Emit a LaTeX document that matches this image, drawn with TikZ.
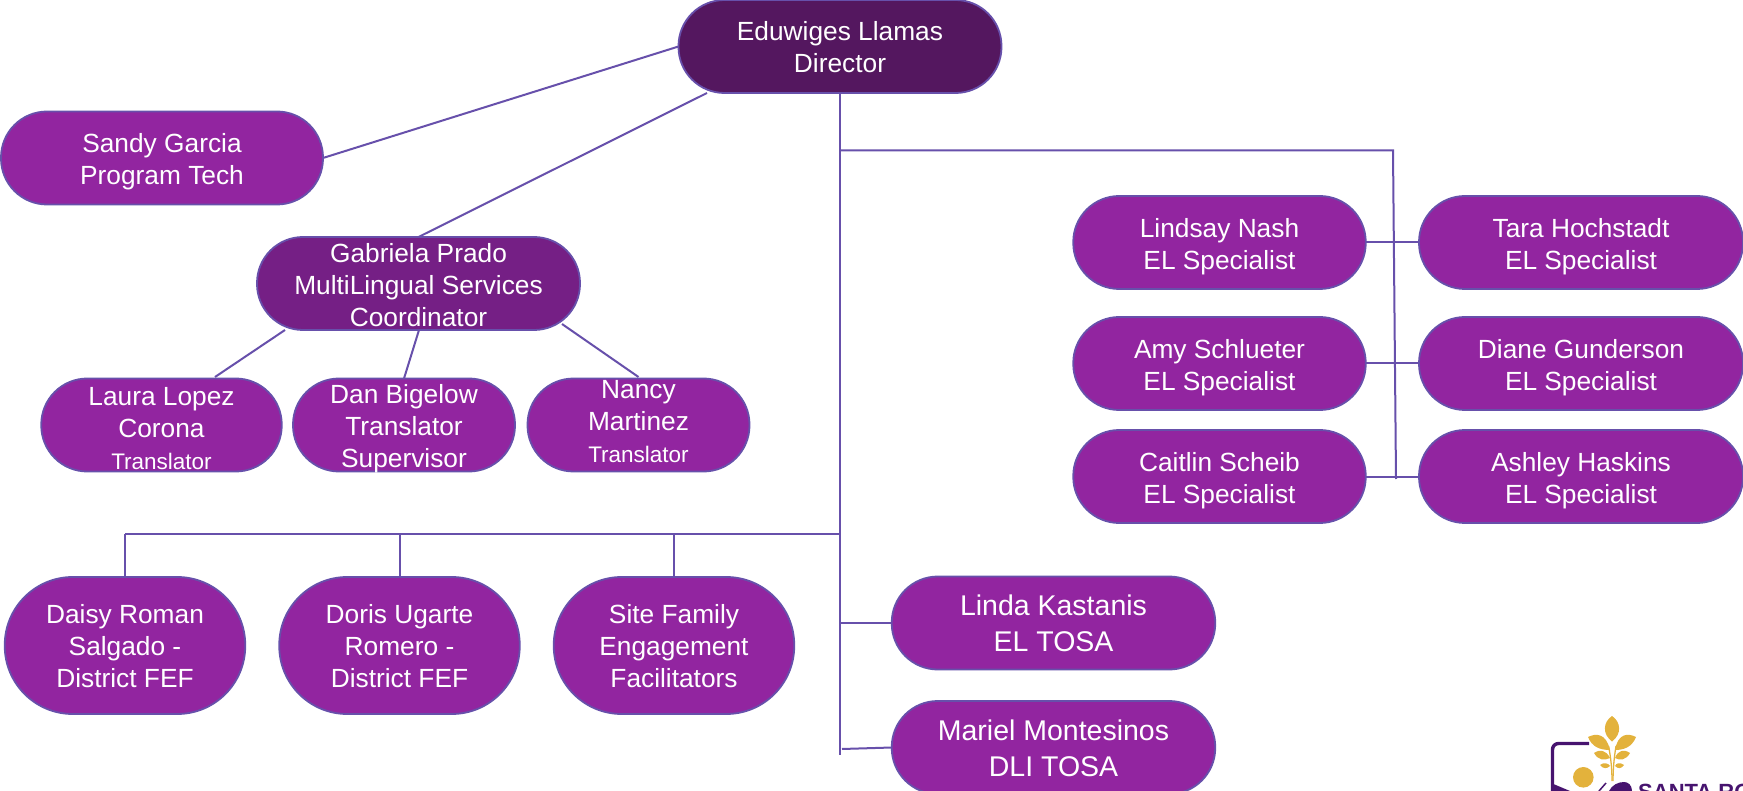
\documentclass[tikz,border=0pt]{standalone}
\usepackage{fontspec}
\setmainfont{Liberation Sans}
\definecolor{edge}{HTML}{6750AB}
\definecolor{dirfill}{HTML}{54175F}
\definecolor{coordfill}{HTML}{751F85}
\definecolor{staff}{HTML}{9225A0}
\definecolor{gold}{HTML}{E3B23C}
\definecolor{logop}{HTML}{47146F}
\newcommand{\pilltext}[2][0]{\raisebox{\dimexpr-9.6pt+#1pt\relax}[0pt][0pt]{\begin{tabular}[c]{@{}c@{}}#2\end{tabular}}}
\newcommand{\smalltr}{\fontsize{22.5}{32}\selectfont}
\begin{document}
\begin{tikzpicture}[x=1pt,y=-1pt,
  pill/.style={draw=edge,line width=1.8pt,fill=staff,text=white,rounded corners=46pt,inner sep=0pt,outer sep=0pt,
    minimum height=93pt,align=center,font=\fontsize{26.3}{32}\selectfont},
  link/.style={draw=edge,line width=2pt},
  big/.style={font=\fontsize{28.5}{36}\selectfont},
  ]
\useasboundingbox (0,0) rectangle (1743,791);
\clip (0,0) rectangle (1743,791);
% --- staff
\node[pill,fill=dirfill,minimum width=323pt,minimum height=93pt] (dir) at (840,46.5) {\pilltext{Eduwiges Llamas\\Director}};
\node[pill,minimum width=322pt] (sandy) at (162,158) {\pilltext[-1]{Sandy Garcia\\Program Tech}};
\node[pill,fill=coordfill,minimum width=323pt] (gab) at (418.5,283.5) {\pilltext[-1]{Gabriela Prado\\MultiLingual Services\\Coordinator}};
\node[pill,minimum width=240.5pt] (laura) at (161.5,425) {\pilltext[-3]{Laura Lopez\\Corona\\{\smalltr Translator}}};
\node[pill,minimum width=222pt] (dan) at (404,425) {\pilltext[-1]{Dan Bigelow\\Translator\\Supervisor}};
\node[pill,minimum width=222pt] (nancy) at (638.5,425) {\pilltext[4]{Nancy\\Martinez\\{\smalltr Translator}}};
\node[pill,minimum width=292.5pt] (lindsay) at (1219.5,242.5) {\pilltext[-1]{Lindsay Nash\\EL Specialist}};
\node[pill,minimum width=324pt] (tara) at (1581,242.5) {\pilltext[-1]{Tara Hochstadt\\EL Specialist}};
\node[pill,minimum width=292.5pt] (amy) at (1219.5,363.5) {\pilltext[-1]{Amy Schlueter\\EL Specialist}};
\node[pill,minimum width=324pt] (diane) at (1581,363.5) {\pilltext[-1]{Diane Gunderson\\EL Specialist}};
\node[pill,minimum width=292.5pt] (caitlin) at (1219.5,476.5) {\pilltext[-1]{Caitlin Scheib\\EL Specialist}};
\node[pill,minimum width=324pt] (ashley) at (1581,476.5) {\pilltext[-1]{Ashley Haskins\\EL Specialist}};
\node[pill,minimum width=240.5pt,minimum height=137pt,rounded corners=68pt] (daisy) at (125,645.5) {\pilltext{Daisy Roman\\Salgado -\\District FEF}};
\node[pill,minimum width=240.5pt,minimum height=137pt,rounded corners=68pt] (doris) at (399.5,645.5) {\pilltext{Doris Ugarte\\Romero -\\District FEF}};
\node[pill,minimum width=240.5pt,minimum height=137pt,rounded corners=68pt] (site) at (674,645.5) {\pilltext{Site Family\\Engagement\\Facilitators}};
\node[pill,big,minimum width=323.5pt] (linda) at (1053.5,623) {\pilltext{Linda Kastanis\\EL TOSA}};
\node[pill,big,minimum width=323.5pt] (mariel) at (1053.5,747.5) {\pilltext{Mariel Montesinos\\DLI TOSA}};
% --- free ends and junctions
\coordinate (dirlow) at (707,93);
\coordinate (gablow) at (285,330);
\coordinate (gabmid) at (419,330);
\coordinate (gabright) at (562,324);
\coordinate (lauratop) at (215,377);
\coordinate (nancytop) at (638.5,377);
\coordinate (trunktop) at (840,150.5);
\coordinate (trunkrow) at (840,534);
\coordinate (trunklinda) at (840,623);
\coordinate (trunkend) at (840,755);
\coordinate (branchcorner) at (1393,150.5);
\coordinate (branchend) at (1396,479);
\coordinate (rowstart) at (125,534);
\coordinate (rowdoris) at (399.5,534);
\coordinate (rowsite) at (674,534);
\coordinate (marielfoot) at (842,749);
% --- connectors
\draw[link] (dir.west) -- (sandy.east);
\draw[link] (dirlow) -- (gab.north);
\draw[link] (gablow) -- (lauratop);
\draw[link] (gabmid) -- (dan.north);
\draw[link] (gabright) -- (nancytop);
\draw[link] (dir.south) -- (trunkend);
\draw[link] (trunktop) -- (branchcorner) -- (branchend);
\draw[link] (lindsay.east) -- (tara.west);
\draw[link] (amy.east) -- (diane.west);
\draw[link] (caitlin.east) -- (ashley.west);
\draw[link] (rowstart) -- (trunkrow);
\draw[link] (rowstart) -- (daisy.north);
\draw[link] (rowdoris) -- (doris.north);
\draw[link] (rowsite) -- (site.north);
\draw[link] (trunklinda) -- (linda.west);
\draw[link] (marielfoot) -- (mariel.west);
% --- logo
\draw[logop,line width=3.4pt,rounded corners=6pt] (1552.5,791) -- (1552.5,743.5) -- (1589,743.5);
\fill[logop] (1551,783) -- (1570,791) -- (1551,791) -- cycle;
\fill[logop] (1609,791) .. controls (1612,785) and (1618,782) .. (1624,782) .. controls (1628,782) and (1632,785) .. (1632,791) -- cycle;
\draw[logop,line width=1.5pt] (1599,791) -- (1606,783);
\fill[gold] (1583.3,777.3) circle (10.3pt);
\fill[gold] (1612,716) .. controls (1603,722) and (1602,734) .. (1612,741.5) .. controls (1622,734) and (1621,722) .. (1612,716) -- cycle;
\fill[gold] (1588,737) .. controls (1596,733) and (1606,733) .. (1610,750) .. controls (1600,750) and (1592,747) .. (1588,737) -- cycle;
\fill[gold] (1636,737) .. controls (1628,733) and (1618,733) .. (1615,750) .. controls (1624,750) and (1632,747) .. (1636,737) -- cycle;
\fill[gold] (1594,753) .. controls (1600,749) and (1606,750) .. (1610,758) .. controls (1604,761) and (1598,760) .. (1594,753) -- cycle;
\fill[gold] (1630,753) .. controls (1624,749) and (1618,750) .. (1615,758) .. controls (1620,761) and (1626,760) .. (1630,753) -- cycle;
\fill[gold] (1600,765) .. controls (1604,762) and (1608,763) .. (1610,766) .. controls (1607,769) and (1603,769) .. (1600,765) -- cycle;
\fill[gold] (1624,765) .. controls (1620,762) and (1616,763) .. (1615,766) .. controls (1618,769) and (1621,769) .. (1624,765) -- cycle;
\draw[gold,line width=1.3pt] (1608.5,746) .. controls (1611,758) and (1612,770) .. (1612,781);
\draw[gold,line width=1.3pt] (1616,746) .. controls (1614,758) and (1613,770) .. (1613,781);
\node[anchor=base west,inner sep=0pt,text=logop,font=\fontsize{22}{22}\selectfont\bfseries] (brand) at (1638,799) {SANTA RO};
\end{tikzpicture}
\end{document}
